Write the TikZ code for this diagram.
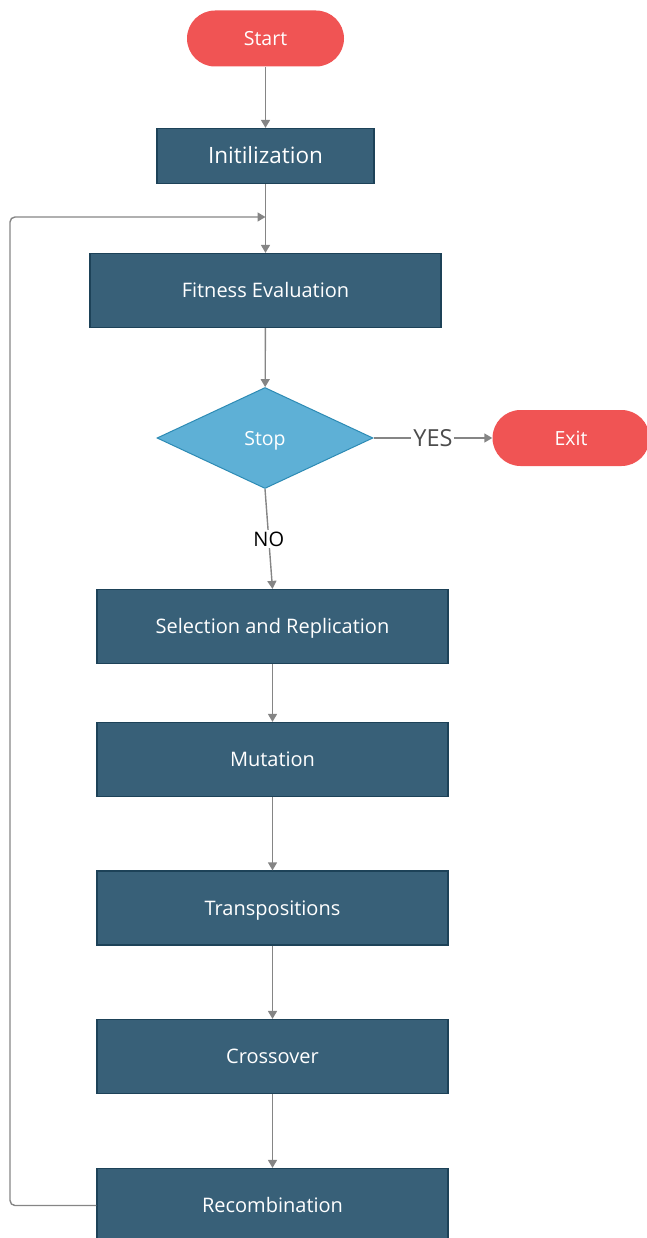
\documentclass[tikz,border=0pt]{standalone}
\usepackage{fontspec}
\setmainfont{Open Sans}
\usetikzlibrary{shapes.geometric, arrows.meta}
\definecolor{boxblue}{HTML}{386078}
\definecolor{boxedge}{HTML}{1D4258}
\definecolor{termred}{HTML}{F05454}
\definecolor{decblue}{HTML}{5EB0D6}
\definecolor{decedge}{HTML}{2D8BB4}
\definecolor{linegray}{HTML}{858585}

\begin{document}
\begin{tikzpicture}[x=1pt, y=-1pt,
		process/.style={draw=boxedge, line width=1.2pt, fill=boxblue, text=white, rectangle,
			minimum width=351pt, minimum height=74pt, inner sep=0pt, text height=14.3pt, text depth=0pt,
			font=\fontsize{20}{24}\selectfont},
		terminal/.style={fill=termred, text=white, rounded corners=28pt,
			minimum width=157pt, minimum height=56pt, inner sep=0pt, text height=14pt, text depth=0pt,
			font=\fontsize{19.5}{24}\selectfont},
		decision/.style={draw=decedge, line width=1pt, fill=decblue, text=white, diamond, aspect=2.14,
			minimum width=216pt, minimum height=101pt, inner sep=0pt, text height=14pt, text depth=0pt,
			font=\fontsize{19.5}{24}\selectfont},
		arrow/.style={draw=linegray, line width=1.4pt, -{Triangle[width=9pt,length=8pt]}},
		lbl/.style={fill=white, inner sep=2pt, text depth=0pt}]
		\useasboundingbox (0,0) rectangle (646,1238);
		
		% Nodes
		\node[terminal] (start) at (265.5,38.5) {Start};
		\node[process, minimum width=217pt, minimum height=55pt, text height=16pt,
			font=\fontsize{22.5}{26}\selectfont] (init) at (265.5,156) {Initilization};
		\node[process] (fit) at (265.5,290.5) {Fitness Evaluation};
		\node[decision] (stop) at (265,438) {Stop};
		\node[terminal] (exit) at (571,438) {Exit};
		\node[process] (sel) at (272.5,626.5) {Selection and Replication};
		\node[process] (mut) at (272.5,759.5) {Mutation};
		\node[process] (trans) at (272.5,908) {Transpositions};
		\node[process] (cross) at (272.5,1056.5) {Crossover};
		\node[process] (recomb) at (272.5,1205.5) {Recombination};
		
		% Loop points
		\coordinate (loop) at (10,217);
		\coordinate (join) at (265.5,217);
		
		% Connections
		\draw[arrow] (start) -- (init);
		\draw[arrow] (init) -- (fit);
		\draw[arrow] (fit) -- (stop);
		\draw[arrow] (stop.east) -- node[lbl, text=black!70, text height=16.8pt,
			font=\fontsize{23.5}{28}\selectfont] {YES} (exit.west);
		\draw[arrow] (stop.south) -- node[lbl, text height=14.3pt,
			font=\fontsize{20}{24}\selectfont] {NO} (sel.north);
		\draw[arrow] (sel) -- (mut);
		\draw[arrow] (mut) -- (trans);
		\draw[arrow] (trans) -- (cross);
		\draw[arrow] (cross) -- (recomb);
		\draw[arrow, rounded corners=5pt] (recomb.west) -| (loop) -- (join);
	\end{tikzpicture}
\end{document}
